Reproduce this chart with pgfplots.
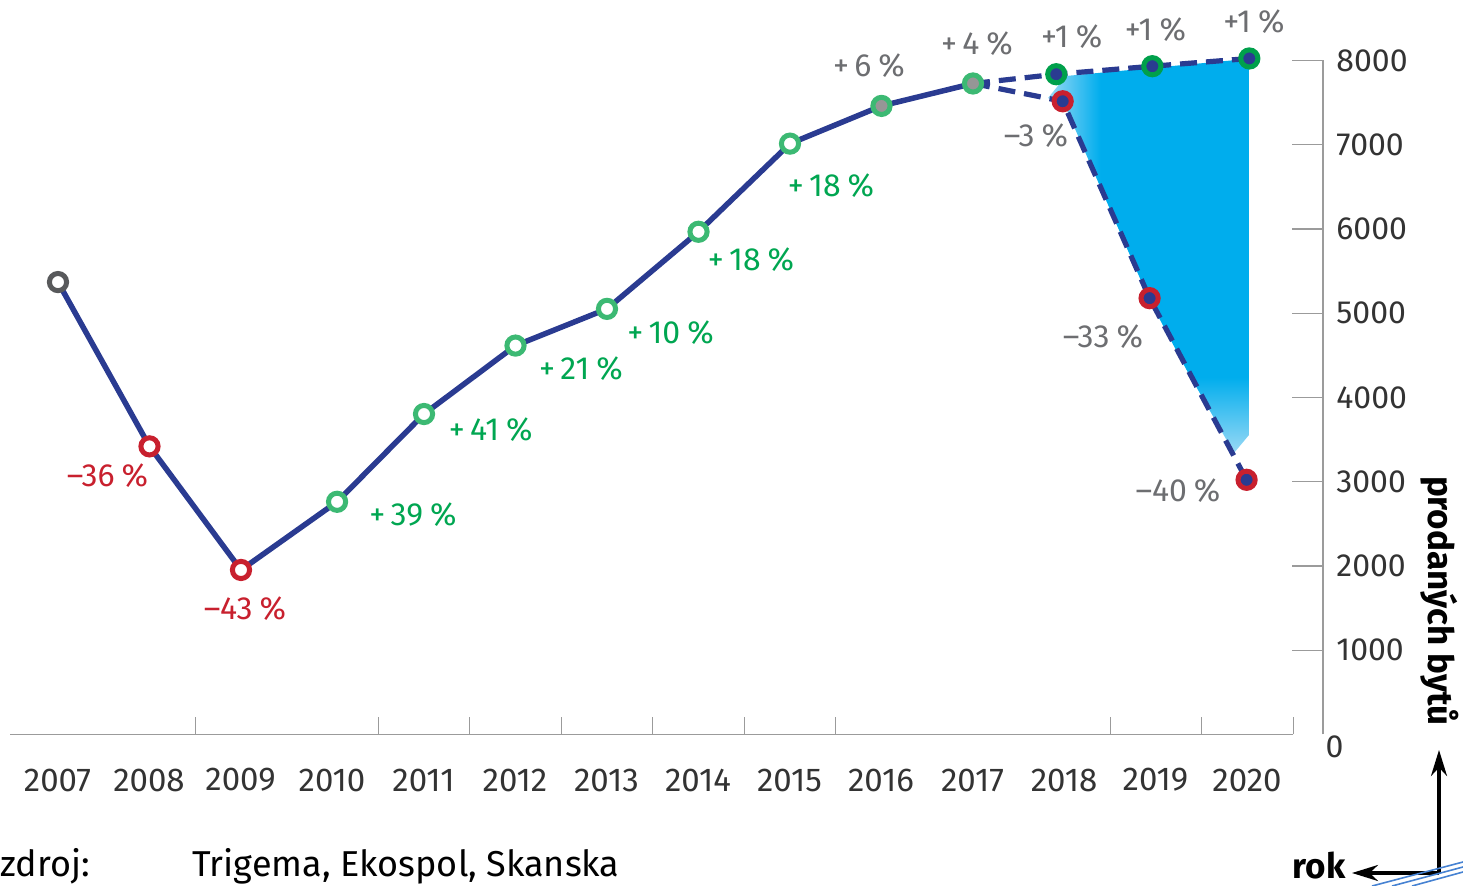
\documentclass[border=0pt]{standalone}
\usepackage{fontspec}
\setmainfont{Fira Sans}
\usepackage{pgfplots}
\pgfplotsset{compat=1.18}
\usetikzlibrary{arrows.meta}
\definecolor{navy}{RGB}{42,59,145}
\definecolor{redc}{RGB}{200,32,46}
\definecolor{greenm}{RGB}{60,185,115}
\definecolor{greend}{RGB}{0,160,75}
\definecolor{greenl}{RGB}{0,166,81}
\definecolor{grayl}{RGB}{109,110,113}
\definecolor{grayfill}{RGB}{150,150,150}
\definecolor{gray07}{RGB}{88,89,91}
\definecolor{tickdark}{RGB}{51,51,51}
\definecolor{axisgray}{RGB}{155,155,155}
\definecolor{decoblue}{RGB}{70,130,210}
\pgfdeclarehorizontalshading{upshade}{100bp}{rgb(0bp)=(0.60,0.85,0.96); rgb(25bp)=(0.60,0.85,0.96); rgb(38bp)=(0.0,0.68,0.93); rgb(100bp)=(0.0,0.68,0.93)}
\pgfdeclareverticalshading{lowshade}{100bp}{rgb(0bp)=(0.60,0.85,0.96); rgb(25bp)=(0.60,0.85,0.96); rgb(75bp)=(0.0,0.68,0.93); rgb(100bp)=(0.0,0.68,0.93)}
\begin{document}
\begin{tikzpicture}
\useasboundingbox (0,0) rectangle (731.5pt,-443pt);
\begin{axis}[
  at={(5pt,-367.25pt)}, anchor=south west,
  scale only axis, width=656.5pt, height=337pt,
  xmin=2006.4754, xmax=2020.8251, ymin=0, ymax=8000,
  axis x line=none, axis y line*=right,
  ytick={1000,2000,3000,4000,5000,6000,7000,8000},
  tick align=inside, major tick length=15.5pt,
  y axis line style={draw=axisgray, line width=0.7pt},
  major tick style={draw=axisgray, line width=0.7pt},
  yticklabel style={font=\fontsize{16}{19}\selectfont, text=tickdark, anchor=west, inner sep=0pt, xshift=6.5pt},
  /pgf/number format/assume math mode=true,
  /pgf/number format/1000 sep={},
  clip=false,
]
% projected range area
\addplot[draw=none, shade, shading=upshade] coordinates {
  (2017.820,7555) (2018.016,7816) (2020.016,8020) (2020.016,4184)
  (2019.404,4184) (2018.923,5169) (2018.016,7436)};
\addplot[draw=none, shade, shading=lowshade] coordinates {
  (2019.38,4240) (2020.016,4240) (2020.016,3555) (2019.852,3341)};
% main line
\addplot[navy, line width=2.75pt, line join=round] coordinates {
  (2007,5370) (2008,3420) (2009,1953) (2010.05,2762) (2011,3804) (2012,4616)
  (2013,5052) (2014,5967) (2015,7013) (2016,7461) (2017,7727)};
% projections
\addplot[navy, line width=2.6pt, dash pattern=on 8.5pt off 4.5pt] coordinates {
  (2017,7727) (2017.91,7837) (2018.96,7932) (2020.02,8024)};
\addplot[navy, line width=2.6pt, dash pattern=on 8.5pt off 4.5pt] coordinates {
  (2017,7727) (2017.98,7516) (2018.93,5179) (2019.99,3023)};
% markers
\addplot[only marks, mark=*, mark size=4.3pt, mark options={draw=gray07, fill=white, line width=2.5pt}] coordinates {(2007,5370)};
\addplot[only marks, mark=*, mark size=4.3pt, mark options={draw=redc, fill=white, line width=2.5pt}] coordinates {(2008,3420) (2009,1953)};
\addplot[only marks, mark=*, mark size=4.3pt, mark options={draw=greenm, fill=white, line width=2.5pt}] coordinates {(2010.05,2762) (2011,3804) (2012,4616) (2013,5052) (2014,5967) (2015,7013)};
\addplot[only marks, mark=*, mark size=4.3pt, mark options={draw=greenm, fill=grayfill, line width=2.5pt}] coordinates {(2016,7461) (2017,7727)};
\addplot[only marks, mark=*, mark size=4.3pt, mark options={draw=greend, fill=navy, line width=2.5pt}] coordinates {(2017.91,7837) (2018.96,7932) (2020.02,8024)};
\addplot[only marks, mark=*, mark size=4.3pt, mark options={draw=redc, fill=navy, line width=2.5pt}] coordinates {(2017.98,7516) (2018.93,5179) (2019.99,3023)};
\end{axis}
\begin{scope}[x=0.5pt, y=-0.5pt]
% x axis line and ticks
\draw[axisgray, line width=0.7pt] (10,734.5) -- (1293.25,734.5);
\foreach \t in {195.25,378.25,469.75,561.25,652.75,744.25,835.75,1110.25,1201.75,1293.25}
  \draw[axisgray, line width=0.7pt] (\t,734.5) -- (\t,717);
% year labels
\foreach \k in {0,...,13} {
  \pgfmathsetmacro{\xx}{57.5+91.5*\k}
  \pgfmathtruncatemacro{\yy}{2007+\k}
  \node[font=\fontsize{16.5}{19}\selectfont, text=tickdark] at (\xx,780) {\yy};
}
\node[font=\fontsize{16}{19}\selectfont, text=tickdark] at (1334.5,747) {0};
% percentage labels
\tikzset{lab/.style={font=\fontsize{16}{19}\selectfont, inner sep=0pt}}
\node[lab, text=redc] at (107.5,476) {–36\hspace{0.22em}\%};
\node[lab, text=redc] at (245,609) {–43\hspace{0.22em}\%};
\node[lab, text=greenl] at (413,515) {+\,39\hspace{0.22em}\%};
\node[lab, text=greenl] at (490.7,430) {+\,41\hspace{0.22em}\%};
\node[lab, text=greenl] at (581,369) {+\,21\hspace{0.22em}\%};
\node[lab, text=greenl] at (670.5,333) {+\,10\hspace{0.22em}\%};
\node[lab, text=greenl] at (751,260) {+\,18\hspace{0.22em}\%};
\node[lab, text=greenl] at (831,186) {+\,18\hspace{0.22em}\%};
\node[lab, text=grayl] at (869,66) {+\,6\hspace{0.22em}\%};
\node[lab, text=grayl] at (977,44) {+\,4\hspace{0.22em}\%};
\node[lab, text=grayl] at (1071.7,36.5) {+1\hspace{0.22em}\%};
\node[lab, text=grayl] at (1155.5,30) {+1\hspace{0.22em}\%};
\node[lab, text=grayl] at (1254,21.7) {+1\hspace{0.22em}\%};
\node[lab, text=grayl] at (1036,136) {–3\hspace{0.22em}\%};
\node[lab, text=grayl] at (1103,337) {–33\hspace{0.22em}\%};
\node[lab, text=grayl] at (1178,491) {–40\hspace{0.22em}\%};
% axis titles and arrows
\node[font=\bfseries\fontsize{17.5}{20}\selectfont, rotate=-90] at (1440,601) {prodaných bytů};
\node[font=\bfseries\fontsize{17.5}{20}\selectfont, anchor=base east, inner sep=0pt] at (1346,879) {rok};
\draw[line width=1.7pt, -{Stealth[length=13pt, width=8pt]}] (1439,873) -- (1439,750);
\draw[line width=1.7pt, -{Stealth[length=13pt, width=8pt]}] (1439,873) -- (1352,873);
% decoration
\draw[decoblue, line width=0.8pt] (1372,886) -- (1463,862);
\draw[decoblue, line width=0.8pt] (1392,886) -- (1463,867);
\draw[decoblue, line width=0.8pt] (1412,886) -- (1463,872);
% source
\node[font=\fontsize{18}{21}\selectfont, anchor=base west, inner sep=0pt, text=black] at (0,877) {zdroj:};
\node[font=\fontsize{18}{21}\selectfont, anchor=base west, inner sep=0pt, text=black] at (192,877) {Trigema, Ekospol, Skanska};
\end{scope}
\end{tikzpicture}
\end{document}
